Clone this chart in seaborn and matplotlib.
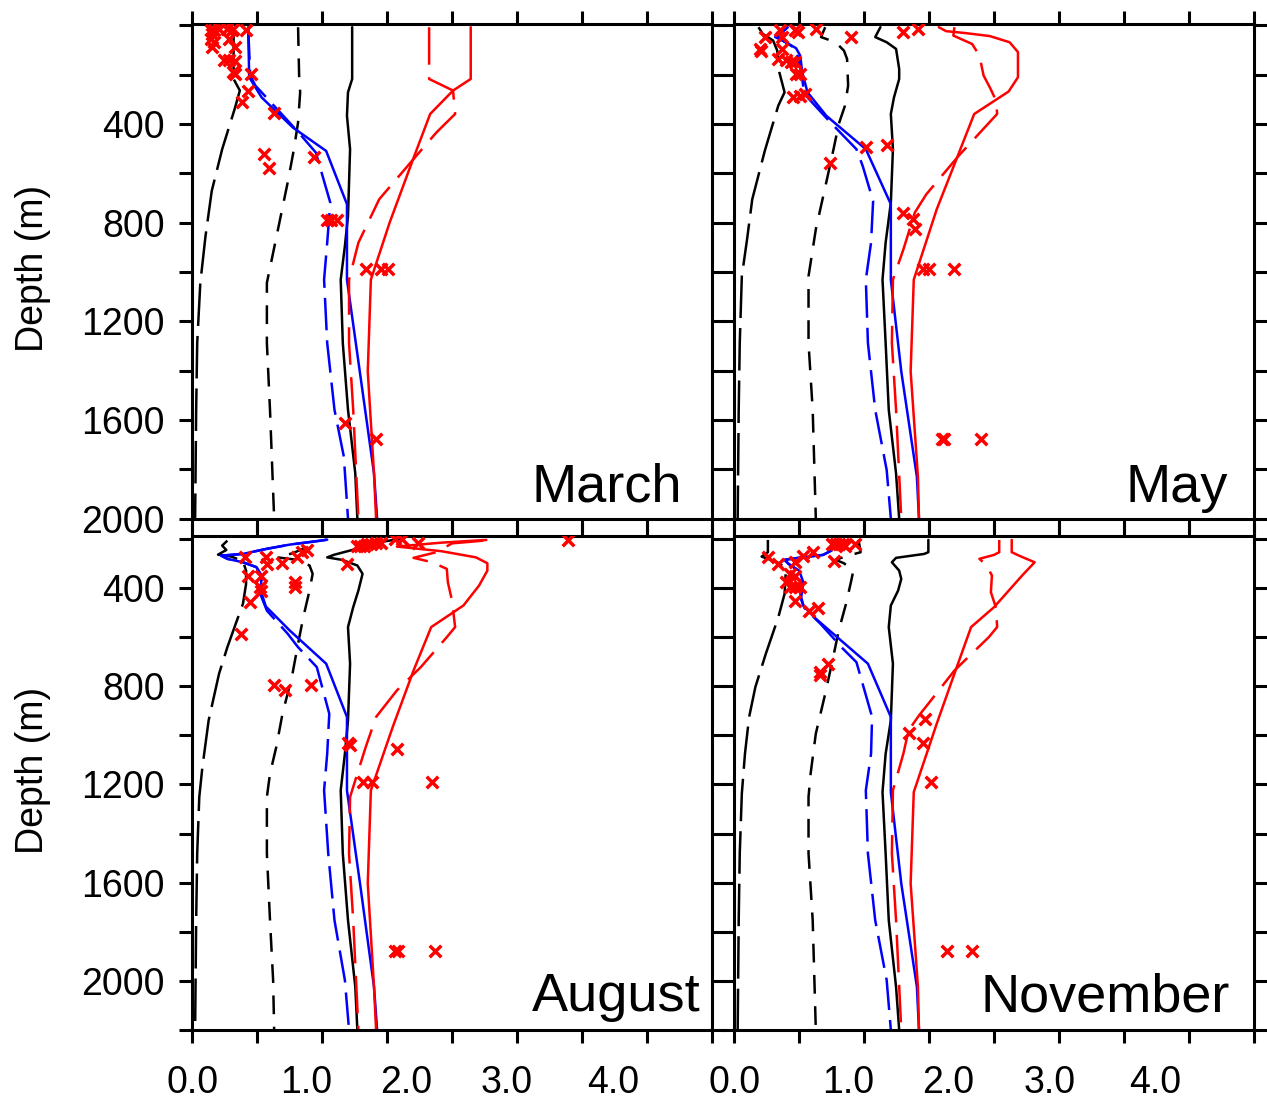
import numpy as np
import pandas as pd
import matplotlib
matplotlib.use("Agg")
import matplotlib.pyplot as plt
import seaborn as sns

# valores: [valor, profundidad (m)]

# ---- March
mar_k_long = [[0.40, 7], [0.40, 217], [0.46, 264], [0.41, 339], [0.29, 502], [0.19, 671], [0.13, 854],
              [0.08, 1044], [0.05, 1288], [0.04, 1559], [0.03, 2000]]
mar_k_short = [[1.02, 7], [1.03, 203], [1.04, 271], [1.02, 393], [0.98, 502], [0.92, 637], [0.84, 800],
               [0.76, 963], [0.72, 1044], [0.72, 1288], [0.75, 1559], [0.79, 2000]]
mar_k_solid = [[1.54, 7], [1.54, 217], [1.50, 271], [1.49, 366], [1.52, 502], [1.50, 773], [1.47, 895],
               [1.43, 1031], [1.45, 1288], [1.50, 1559], [1.57, 1817], [1.59, 2000]]
mar_b_solid = [[0.54, 7], [0.55, 210], [0.67, 292], [0.97, 414], [1.29, 509], [1.49, 725], [1.49, 1031],
               [1.62, 1424], [1.75, 1817], [1.78, 2000]]
mar_b_dash = [[0.54, 7], [0.56, 203], [0.61, 244], [1.01, 427], [1.19, 515], [1.33, 719], [1.30, 881],
              [1.27, 1031], [1.30, 1288], [1.37, 1559], [1.46, 1749], [1.50, 2000]]
mar_r_solid = [[2.68, 7], [2.68, 217], [2.51, 264], [2.29, 359], [2.12, 549], [1.90, 800], [1.72, 1031],
               [1.69, 1403], [1.75, 1817], [1.77, 2000]]
mar_r_dash = [[2.28, 7], [2.28, 217], [2.51, 264], [2.53, 359], [2.35, 434], [2.13, 542], [1.80, 705],
              [1.60, 881], [1.51, 1031], [1.51, 1288], [1.55, 1559], [1.60, 2000]]
mar_obs = [[0.18, 20], [0.19, 34], [0.21, 20], [0.26, 14], [0.34, 14], [0.38, 20], [0.39, 14], [0.52, 20],
           [0.18, 54], [0.21, 68], [0.36, 54], [0.41, 88], [0.19, 88], [0.31, 142], [0.36, 142], [0.41, 146],
           [0.39, 190], [0.41, 197], [0.57, 197], [0.54, 264], [0.48, 312], [0.79, 355], [0.69, 522],
           [0.74, 580], [1.17, 533], [1.30, 789], [1.34, 789], [1.39, 789], [1.67, 986], [1.82, 986],
           [1.88, 986], [1.47, 1614], [1.77, 1677]]

# ---- May
may_k_long = [[0.24, 7], [0.28, 34], [0.38, 61], [0.42, 102], [0.44, 190], [0.49, 271], [0.43, 325],
              [0.30, 509], [0.18, 705], [0.13, 868], [0.08, 1017], [0.06, 1288], [0.05, 1559], [0.04, 2000]]
may_k_short = [[0.88, 7], [0.84, 47], [0.98, 68], [1.06, 102], [1.09, 136], [1.10, 244], [1.07, 325],
               [1.01, 400], [0.96, 502], [0.89, 637], [0.79, 827], [0.72, 1017], [0.72, 1288], [0.76, 1559],
               [0.79, 2000]]
may_k_solid = [[1.41, 7], [1.36, 47], [1.47, 68], [1.56, 95], [1.59, 176], [1.59, 217], [1.54, 292],
               [1.51, 359], [1.53, 502], [1.51, 719], [1.46, 881], [1.43, 1031], [1.46, 1288], [1.49, 1559],
               [1.56, 1817], [1.59, 2000]]
may_b_solid = [[0.52, 7], [0.40, 47], [0.50, 68], [0.60, 92], [0.64, 122], [0.66, 190], [0.71, 271],
               [0.89, 366], [1.27, 502], [1.51, 725], [1.51, 1031], [1.61, 1403], [1.76, 1831], [1.78, 2000]]
may_b_dash = [[0.52, 7], [0.42, 47], [0.60, 95], [0.65, 190], [0.68, 278], [0.93, 393], [1.18, 502],
              [1.24, 570], [1.34, 712], [1.32, 881], [1.27, 1031], [1.29, 1288], [1.36, 1559], [1.47, 1803],
              [1.51, 2000]]
may_r_solid = [[1.97, 7], [2.04, 23], [2.23, 31], [2.46, 43], [2.65, 68], [2.73, 108], [2.73, 210],
               [2.64, 268], [2.31, 359], [2.14, 542], [1.95, 746], [1.73, 1031], [1.70, 1403], [1.77, 1831],
               [1.78, 2000]]
may_r_dash = [[2.12, 7], [2.11, 41], [2.29, 75], [2.36, 122], [2.40, 203], [2.46, 251], [2.52, 305],
              [2.53, 359], [2.41, 414], [2.16, 529], [1.85, 685], [1.74, 759], [1.63, 909], [1.53, 1031],
              [1.52, 1288], [1.56, 1559], [1.61, 2000]]
may_obs = [[0.30, 47], [0.45, 20], [0.47, 47], [0.59, 20], [0.62, 27], [0.79, 16], [1.13, 47], [1.63, 27],
           [1.77, 16], [0.25, 95], [0.26, 102], [0.47, 95], [0.43, 136], [0.50, 142], [0.55, 149],
           [0.59, 149], [0.60, 197], [0.64, 197], [0.57, 292], [0.64, 285], [0.69, 278], [1.27, 491],
           [1.47, 485], [0.93, 556], [1.63, 759], [1.72, 787], [1.74, 827], [1.82, 986], [1.88, 986],
           [2.12, 986], [2.00, 1677], [2.02, 1677], [2.38, 1677]]

# ---- August
aug_k_long = [[0.34, 207], [0.29, 227], [0.33, 245], [0.25, 264], [0.38, 272], [0.49, 291], [0.52, 329],
              [0.52, 383], [0.49, 464], [0.42, 546], [0.34, 641], [0.26, 749], [0.16, 939], [0.10, 1129],
              [0.07, 1251], [0.05, 1481], [0.04, 1753], [0.03, 2200]]
aug_k_short = [[1.10, 234], [0.97, 258], [0.82, 275], [1.01, 285], [1.13, 308], [1.16, 342], [1.13, 410],
               [1.07, 519], [1.02, 627], [0.96, 763], [0.87, 912], [0.81, 1048], [0.75, 1156], [0.72, 1251],
               [0.72, 1481], [0.75, 1753], [0.78, 1997], [0.79, 2200]]
aug_k_solid = [[2.00, 200], [1.73, 218], [1.54, 245], [1.37, 264], [1.30, 275], [1.44, 285], [1.59, 308],
               [1.64, 342], [1.60, 410], [1.55, 478], [1.50, 559], [1.52, 708], [1.50, 939], [1.47, 1075],
               [1.43, 1224], [1.45, 1481], [1.50, 1753], [1.57, 2024], [1.59, 2200]]
aug_b_solid = [[1.30, 203], [1.20, 209], [0.94, 223], [0.71, 241], [0.49, 261], [0.28, 268], [0.34, 281],
               [0.49, 295], [0.62, 315], [0.67, 349], [0.66, 410], [0.71, 475], [0.94, 573], [1.29, 708],
               [1.49, 925], [1.49, 1224], [1.62, 1617], [1.75, 2024], [1.78, 2200]]
aug_b_dash = [[1.30, 203], [1.20, 209], [0.94, 223], [0.71, 241], [0.49, 261], [0.28, 268], [0.34, 281],
              [0.49, 295], [0.62, 315], [0.67, 356], [0.65, 417], [0.72, 492], [0.92, 586], [1.02, 641],
              [1.20, 722], [1.32, 912], [1.30, 1075], [1.27, 1224], [1.31, 1481], [1.37, 1753], [1.47, 1997],
              [1.51, 2200]]
aug_r_solid = [[2.83, 204], [2.40, 215], [1.97, 231], [2.40, 250], [2.73, 275], [2.84, 299], [2.84, 329],
               [2.76, 390], [2.61, 471], [2.30, 559], [2.13, 736], [1.93, 966], [1.72, 1224], [1.69, 1603],
               [1.75, 2024], [1.77, 2200]]
aug_r_dash = [[2.80, 207], [2.50, 218], [2.35, 254], [2.13, 277], [2.31, 295], [2.45, 322], [2.46, 376],
              [2.50, 451], [2.53, 559], [2.45, 600], [2.20, 722], [1.97, 817], [1.77, 925], [1.67, 1048],
              [1.59, 1156], [1.52, 1251], [1.51, 1481], [1.55, 1753], [1.60, 2200]]
aug_obs = [[1.59, 227], [1.62, 227], [1.65, 227], [1.68, 220], [1.72, 220], [1.77, 218], [1.82, 218],
           [1.95, 200], [2.02, 200], [2.17, 216], [3.62, 203], [0.51, 272], [0.71, 275], [0.72, 302],
           [0.87, 299], [1.01, 275], [1.06, 254], [1.11, 247], [1.49, 302], [0.54, 349], [0.66, 349],
           [0.65, 397], [0.66, 410], [0.99, 376], [0.99, 397], [0.56, 458], [0.47, 586], [0.79, 793],
           [0.89, 814], [1.14, 793], [1.50, 1031], [1.52, 1041], [1.97, 1054], [1.64, 1190], [1.73, 1190],
           [2.31, 1190], [1.95, 1879], [1.98, 1879], [2.34, 1879]]

# ---- November
nov_k_long = [[0.33, 204], [0.33, 254], [0.27, 272], [0.42, 295], [0.49, 315], [0.50, 349], [0.49, 424],
              [0.43, 519], [0.31, 668], [0.21, 803], [0.15, 925], [0.11, 1075], [0.08, 1237], [0.06, 1481],
              [0.05, 1753], [0.04, 2200]]
nov_k_short = [[1.20, 204], [1.22, 254], [1.07, 272], [0.98, 285], [1.06, 299], [1.15, 329], [1.13, 370],
               [1.08, 464], [1.01, 573], [0.95, 695], [0.88, 831], [0.79, 993], [0.74, 1156], [0.72, 1251],
               [0.72, 1481], [0.76, 1753], [0.79, 2200]]
nov_k_solid = [[1.87, 204], [1.87, 254], [1.83, 261], [1.56, 277], [1.52, 295], [1.59, 329], [1.61, 363],
               [1.58, 410], [1.51, 471], [1.49, 559], [1.53, 708], [1.51, 939], [1.46, 1075], [1.43, 1231],
               [1.46, 1481], [1.49, 1753], [1.56, 2024], [1.59, 2200]]
nov_b_solid = [[0.95, 204], [0.94, 247], [0.86, 265], [0.66, 275], [0.49, 285], [0.53, 302], [0.63, 329],
               [0.67, 376], [0.65, 437], [0.67, 471], [0.79, 525], [1.29, 708], [1.51, 925], [1.51, 1231],
               [1.61, 1603], [1.76, 2024], [1.78, 2200]]
nov_b_dash = [[0.95, 204], [0.94, 247], [0.86, 265], [0.66, 275], [0.49, 285], [0.53, 302], [0.62, 329],
              [0.66, 376], [0.64, 437], [0.68, 481], [0.84, 548], [1.05, 647], [1.18, 702], [1.33, 925],
              [1.32, 1075], [1.27, 1224], [1.29, 1481], [1.36, 1753], [1.47, 1997], [1.51, 2200]]
nov_r_solid = [[2.67, 204], [2.67, 254], [2.74, 268], [2.89, 295], [2.77, 349], [2.50, 478], [2.28, 559],
               [2.12, 749], [1.95, 953], [1.73, 1231], [1.70, 1603], [1.77, 2024], [1.78, 2200]]
nov_r_dash = [[2.55, 204], [2.55, 254], [2.50, 265], [2.36, 281], [2.43, 308], [2.48, 349], [2.47, 417],
              [2.52, 481], [2.53, 559], [2.45, 600], [2.12, 736], [1.87, 871], [1.78, 919], [1.68, 980],
              [1.63, 1075], [1.53, 1224], [1.52, 1481], [1.56, 1753], [1.61, 2200]]
nov_obs = [[0.95, 220], [0.98, 220], [1.01, 220], [1.05, 220], [1.07, 227], [1.17, 220], [0.33, 272],
           [0.43, 302], [0.59, 295], [0.67, 268], [0.76, 254], [0.96, 288], [0.54, 342], [0.59, 349],
           [0.50, 376], [0.54, 397], [0.59, 397], [0.64, 397], [0.59, 451], [0.72, 492], [0.81, 481],
           [0.83, 742], [0.83, 756], [0.91, 708], [1.68, 991], [1.82, 1030], [1.84, 935], [1.90, 1190],
           [2.05, 1879], [2.29, 1879]]

xtick_labels = ["0.0", "1.0", "2.0", "3.0", "4.0"]
ytick_labels = ["400", "800", "1200", "1600", "2000"]

# estilos de linea
estilos = {
    "k_long": ("black", (0, (17, 4))),
    "k_short": ("black", (0, (7.5, 5))),
    "k_solid": ("black", "-"),
    "b_solid": ("blue", "-"),
    "b_dash": ("blue", (0, (13, 4))),
    "r_solid": ("red", "-"),
    "r_dash": ("red", (0, (15, 5))),
}

paneles = [
    ("March", {"k_long": mar_k_long, "k_short": mar_k_short, "k_solid": mar_k_solid, "b_solid": mar_b_solid,
               "b_dash": mar_b_dash, "r_solid": mar_r_solid, "r_dash": mar_r_dash}, mar_obs,
     [192, 24, 712, 519], (2002, -6), 682, 502),
    ("May", {"k_long": may_k_long, "k_short": may_k_short, "k_solid": may_k_solid, "b_solid": may_b_solid,
             "b_dash": may_b_dash, "r_solid": may_r_solid, "r_dash": may_r_dash}, may_obs,
     [733.5, 24, 1254.5, 519], (2002, -6), 1228, 502),
    ("August", {"k_long": aug_k_long, "k_short": aug_k_short, "k_solid": aug_k_solid, "b_solid": aug_b_solid,
                "b_dash": aug_b_dash, "r_solid": aug_r_solid, "r_dash": aug_r_dash}, aug_obs,
     [192, 536, 712, 1030], (2200, 188), 701, 1011),
    ("November", {"k_long": nov_k_long, "k_short": nov_k_short, "k_solid": nov_k_solid, "b_solid": nov_b_solid,
                  "b_dash": nov_b_dash, "r_solid": nov_r_solid, "r_dash": nov_r_dash}, nov_obs,
     [733.5, 536, 1254.5, 1030], (2200, 188), 1230, 1011),
]

sns.set_theme(style="ticks")
plt.rcParams["font.family"] = ["Liberation Sans", "DejaVu Sans"]
plt.rcParams["axes.linewidth"] = 2.2
for k in ["text.color", "xtick.color", "ytick.color", "axes.labelcolor", "axes.edgecolor"]:
    plt.rcParams[k] = "black"

W, H = 1267, 1100
fig = plt.figure(figsize=(W / 100, H / 100), dpi=100)

for i, (nombre, lineas, obs, caja, ylims, tx, ty) in enumerate(paneles):
    x0, y0, x1, y1 = caja
    ax = fig.add_axes([x0 / W, 1 - y1 / H, (x1 - x0) / W, (y1 - y0) / H])

    for key, pts in lineas.items():
        df = pd.DataFrame(pts, columns=["val", "depth"])
        color, ls = estilos[key]
        sns.lineplot(data=df, x="val", y="depth", sort=False, estimator=None,
                     color=color, linestyle=ls, lw=1.8, ax=ax)

    dfo = pd.DataFrame(obs, columns=["val", "depth"])
    sns.scatterplot(data=dfo, x="val", y="depth", marker="x", color="red",
                    s=70, linewidth=2.5, ax=ax, zorder=5)

    ax.set(xlabel="", ylabel="")
    ax.set_xlim(0, 5)

    # eje x: marcas cada 5/8, etiquetas 0..4
    ax.set_xticks(np.linspace(0, 5, 9), minor=True)
    ax.set_xticks([0.01, 1.1, 2.06, 3.03, 4.05])
    ax.set_xticklabels(xtick_labels)
    ax.tick_params(axis="x", which="major", length=0, pad=25, labelsize=27,
                   labelbottom=(i >= 2), top=True, bottom=True)
    ax.tick_params(axis="x", which="minor", length=9.5, width=2.2, direction="out",
                   top=True, bottom=True)

    # eje y
    lo = 0 if i < 2 else 200
    yt = list(range(lo, 2201 if i >= 2 else 2001, 200))
    ax.set_yticks(yt)
    ax.set_yticklabels([str(v) if str(v) in ytick_labels else "" for v in yt])
    ax.set_ylim(*ylims)
    ax.tick_params(axis="y", which="major", length=9.5, width=2.2, direction="out",
                   left=True, right=True, labelleft=(i % 2 == 0), labelsize=27, pad=10)

    for s in ax.spines.values():
        s.set_linewidth(2.2)
        s.set_color("black")
        s.set_visible(True)

    fig.text(tx / W, 1 - ty / H, nombre, ha="right", va="baseline", fontsize=39)

fig.text(33 / W, 1 - 268 / H, "Depth (m)", rotation=90, ha="center", va="center", fontsize=27)
fig.text(33 / W, 1 - 770 / H, "Depth (m)", rotation=90, ha="center", va="center", fontsize=27)

fig.savefig("out.png", dpi=100)
